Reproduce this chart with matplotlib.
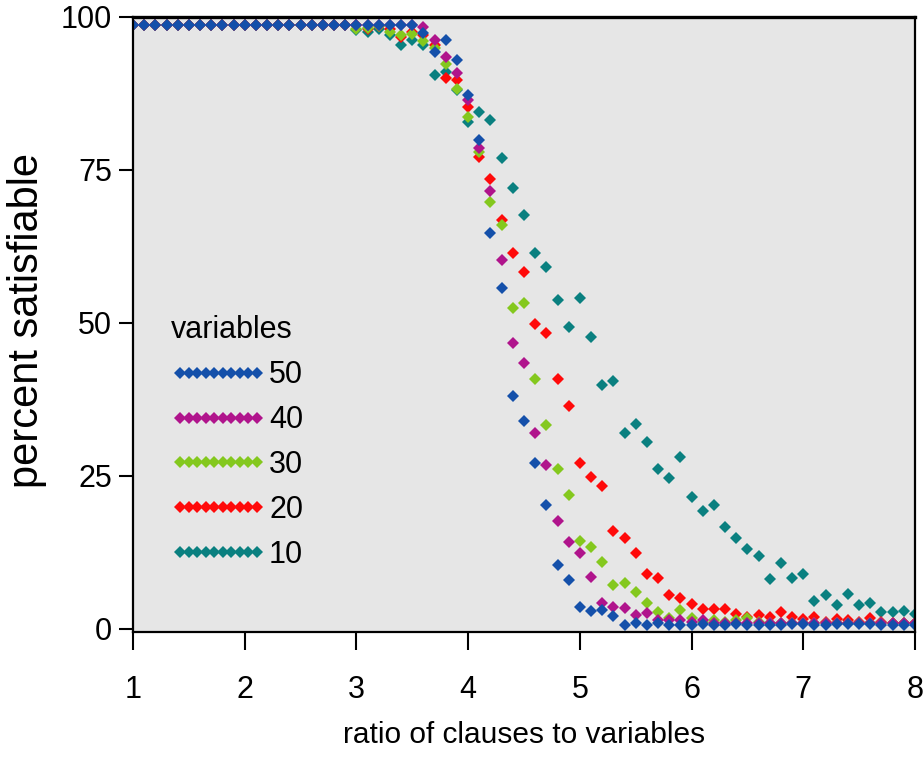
import numpy as np
import matplotlib
matplotlib.use("Agg")
import matplotlib.pyplot as plt

# ratio of clauses to variables, one point every 0.1
ratio = np.round(np.arange(10, 81) / 10, 1)

# percent satisfiable for each problem size
vars_50 = [98.7, 98.7, 98.7, 98.7, 98.7, 98.7, 98.7, 98.7, 98.7, 98.7,
           98.7, 98.7, 98.7, 98.7, 98.7, 98.7, 98.7, 98.7, 98.7, 98.7,
           98.7, 98.7, 98.7, 98.7, 98.7, 98.7, 97.4, 94.3, 96.2, 93.0,
           87.3, 79.9, 64.7, 55.7, 38.0, 34.0, 27.1, 20.3, 10.5, 8.0,
           3.6, 3.0, 3.1, 2.1, 0.7, 1.0, 0.7, 1.0, 0.7, 0.7,
           0.7, 0.8, 0.7, 0.7, 0.8, 0.7, 0.7, 0.7, 0.7, 0.8,
           0.8, 0.7, 0.7, 0.8, 0.8, 0.8, 0.8, 0.7, 0.7, 0.7,
           0.7]
vars_40 = [98.7, 98.7, 98.7, 98.7, 98.7, 98.7, 98.7, 98.7, 98.7, 98.7,
           98.7, 98.7, 98.7, 98.7, 98.7, 98.7, 98.7, 98.7, 98.7, 98.7,
           98.7, 98.7, 98.7, 98.7, 98.7, 98.7, 98.4, 96.2, 93.5, 90.8,
           86.5, 78.6, 71.5, 60.3, 46.7, 43.5, 32.0, 26.8, 17.7, 14.2,
           12.4, 8.5, 4.3, 3.6, 3.4, 2.3, 2.6, 1.5, 1.5, 1.5,
           1.2, 1.5, 1.0, 1.0, 1.0, 1.0, 1.0, 1.0, 1.0, 1.0,
           1.0, 1.0, 1.0, 1.0, 1.0, 1.0, 1.0, 1.0, 1.0, 1.0,
           1.0]
vars_30 = [98.7, 98.7, 98.7, 98.7, 98.7, 98.7, 98.7, 98.7, 98.7, 98.7,
           98.7, 98.7, 98.7, 98.7, 98.7, 98.7, 98.7, 98.7, 98.7, 98.7,
           98.0, 98.2, 98.5, 97.5, 97.0, 97.2, 96.0, 95.0, 92.3, 88.3,
           83.7, 78.0, 69.8, 66.0, 52.4, 53.3, 40.8, 33.3, 26.2, 21.9,
           14.4, 13.4, 11.0, 7.2, 7.5, 6.0, 4.2, 2.8, 1.8, 3.1,
           1.8, 1.2, 1.5, 1.2, 1.5, 1.8, 1.2, 1.0, 1.0, 1.0,
           1.0, 1.0, 1.0, 1.0, 1.0, 1.0, 1.0, 1.0, 1.0, 1.0,
           1.0]
vars_20 = [98.7, 98.7, 98.7, 98.7, 98.7, 98.7, 98.7, 98.7, 98.7, 98.7,
           98.7, 98.7, 98.7, 98.7, 98.7, 98.7, 98.7, 98.7, 98.7, 98.7,
           98.7, 98.0, 98.5, 98.0, 96.8, 97.5, 97.0, 95.5, 90.0, 89.7,
           85.3, 77.2, 73.6, 66.8, 61.4, 58.4, 49.9, 48.3, 40.9, 36.4,
           27.1, 24.9, 23.3, 16.0, 14.8, 12.4, 9.0, 8.4, 5.6, 5.1,
           4.1, 3.2, 3.2, 3.2, 2.5, 2.0, 2.3, 1.9, 2.8, 1.9,
           1.6, 2.0, 1.1, 1.6, 1.4, 1.1, 1.8, 1.1, 1.0, 1.0,
           1.0]
vars_10 = [98.7, 98.7, 98.7, 98.7, 98.7, 98.7, 98.7, 98.7, 98.7, 98.7,
           98.7, 98.7, 98.7, 98.7, 98.7, 98.7, 98.7, 98.7, 98.7, 98.7,
           97.8, 97.5, 98.0, 97.0, 95.4, 96.2, 95.4, 90.5, 91.0, 88.0,
           82.9, 84.4, 83.2, 76.9, 72.0, 67.6, 61.4, 59.2, 53.7, 49.4,
           54.0, 47.7, 39.9, 40.5, 32.0, 33.5, 30.5, 26.1, 24.6, 28.1,
           21.6, 19.2, 20.3, 16.7, 14.9, 13.0, 11.9, 8.1, 10.7, 8.4,
           9.0, 4.6, 5.6, 3.9, 5.7, 3.9, 4.2, 2.8, 2.8, 2.9,
           2.4]

labels = ["50", "40", "30", "20", "10"]
colors = ["#1450aa", "#b0148c", "#84c81e", "#ff0a0a", "#0a8080"]
series = [vars_50, vars_40, vars_30, vars_20, vars_10]

plt.rcParams["font.family"] = ["Liberation Sans", "DejaVu Sans"]

fig = plt.figure(figsize=(9.24, 7.57), dpi=100)
ax = fig.add_axes([133 / 924, 1 - 632 / 757, (915 - 133) / 924, (632 - 17) / 757])
ax.set_facecolor("#e6e6e6")

# draw the small sizes first so the 50-variable series sits on top
handles = {}
for lab, col, vals in reversed(list(zip(labels, colors, series))):
    h, = ax.plot(ratio, vals, linestyle="none", marker="D", markersize=5.8,
                 markeredgewidth=0, color=col, label=lab)
    handles[lab] = h

ax.set_xlim(1, 8)
ax.set_ylim(-0.5, 100)
ax.set_xticks([1, 2, 3, 4, 5, 6, 7, 8])
ax.set_yticks([0, 25, 50, 75, 100])
ax.tick_params(axis="y", direction="out", length=10, width=1.5,
               labelsize=22, pad=5)
ax.tick_params(axis="x", direction="out", length=13, width=1.5,
               labelsize=22, pad=18)
for side in ["left", "bottom", "right", "top"]:
    ax.spines[side].set_linewidth(1.6)
ax.spines["top"].set_linewidth(2.4)

ax.set_xlabel("ratio of clauses to variables", fontsize=21.5)
ax.xaxis.set_label_coords(0.5, -0.168)
ax.xaxis.label.set_verticalalignment("center")
ax.set_ylabel("percent satisfiable", fontsize=30)
ax.yaxis.set_label_coords(-0.135, 0.507)
ax.yaxis.label.set_verticalalignment("center")

leg = ax.legend([handles[l] for l in labels], labels, title="variables",
                loc="upper left", bbox_to_anchor=(0.049, 0.515),
                frameon=False, numpoints=10, handlelength=3.1,
                handletextpad=0.1, labelspacing=0.49, borderpad=0,
                borderaxespad=0, fontsize=22, title_fontsize=22,
                alignment="left")

plt.savefig("out.png", dpi=100)
